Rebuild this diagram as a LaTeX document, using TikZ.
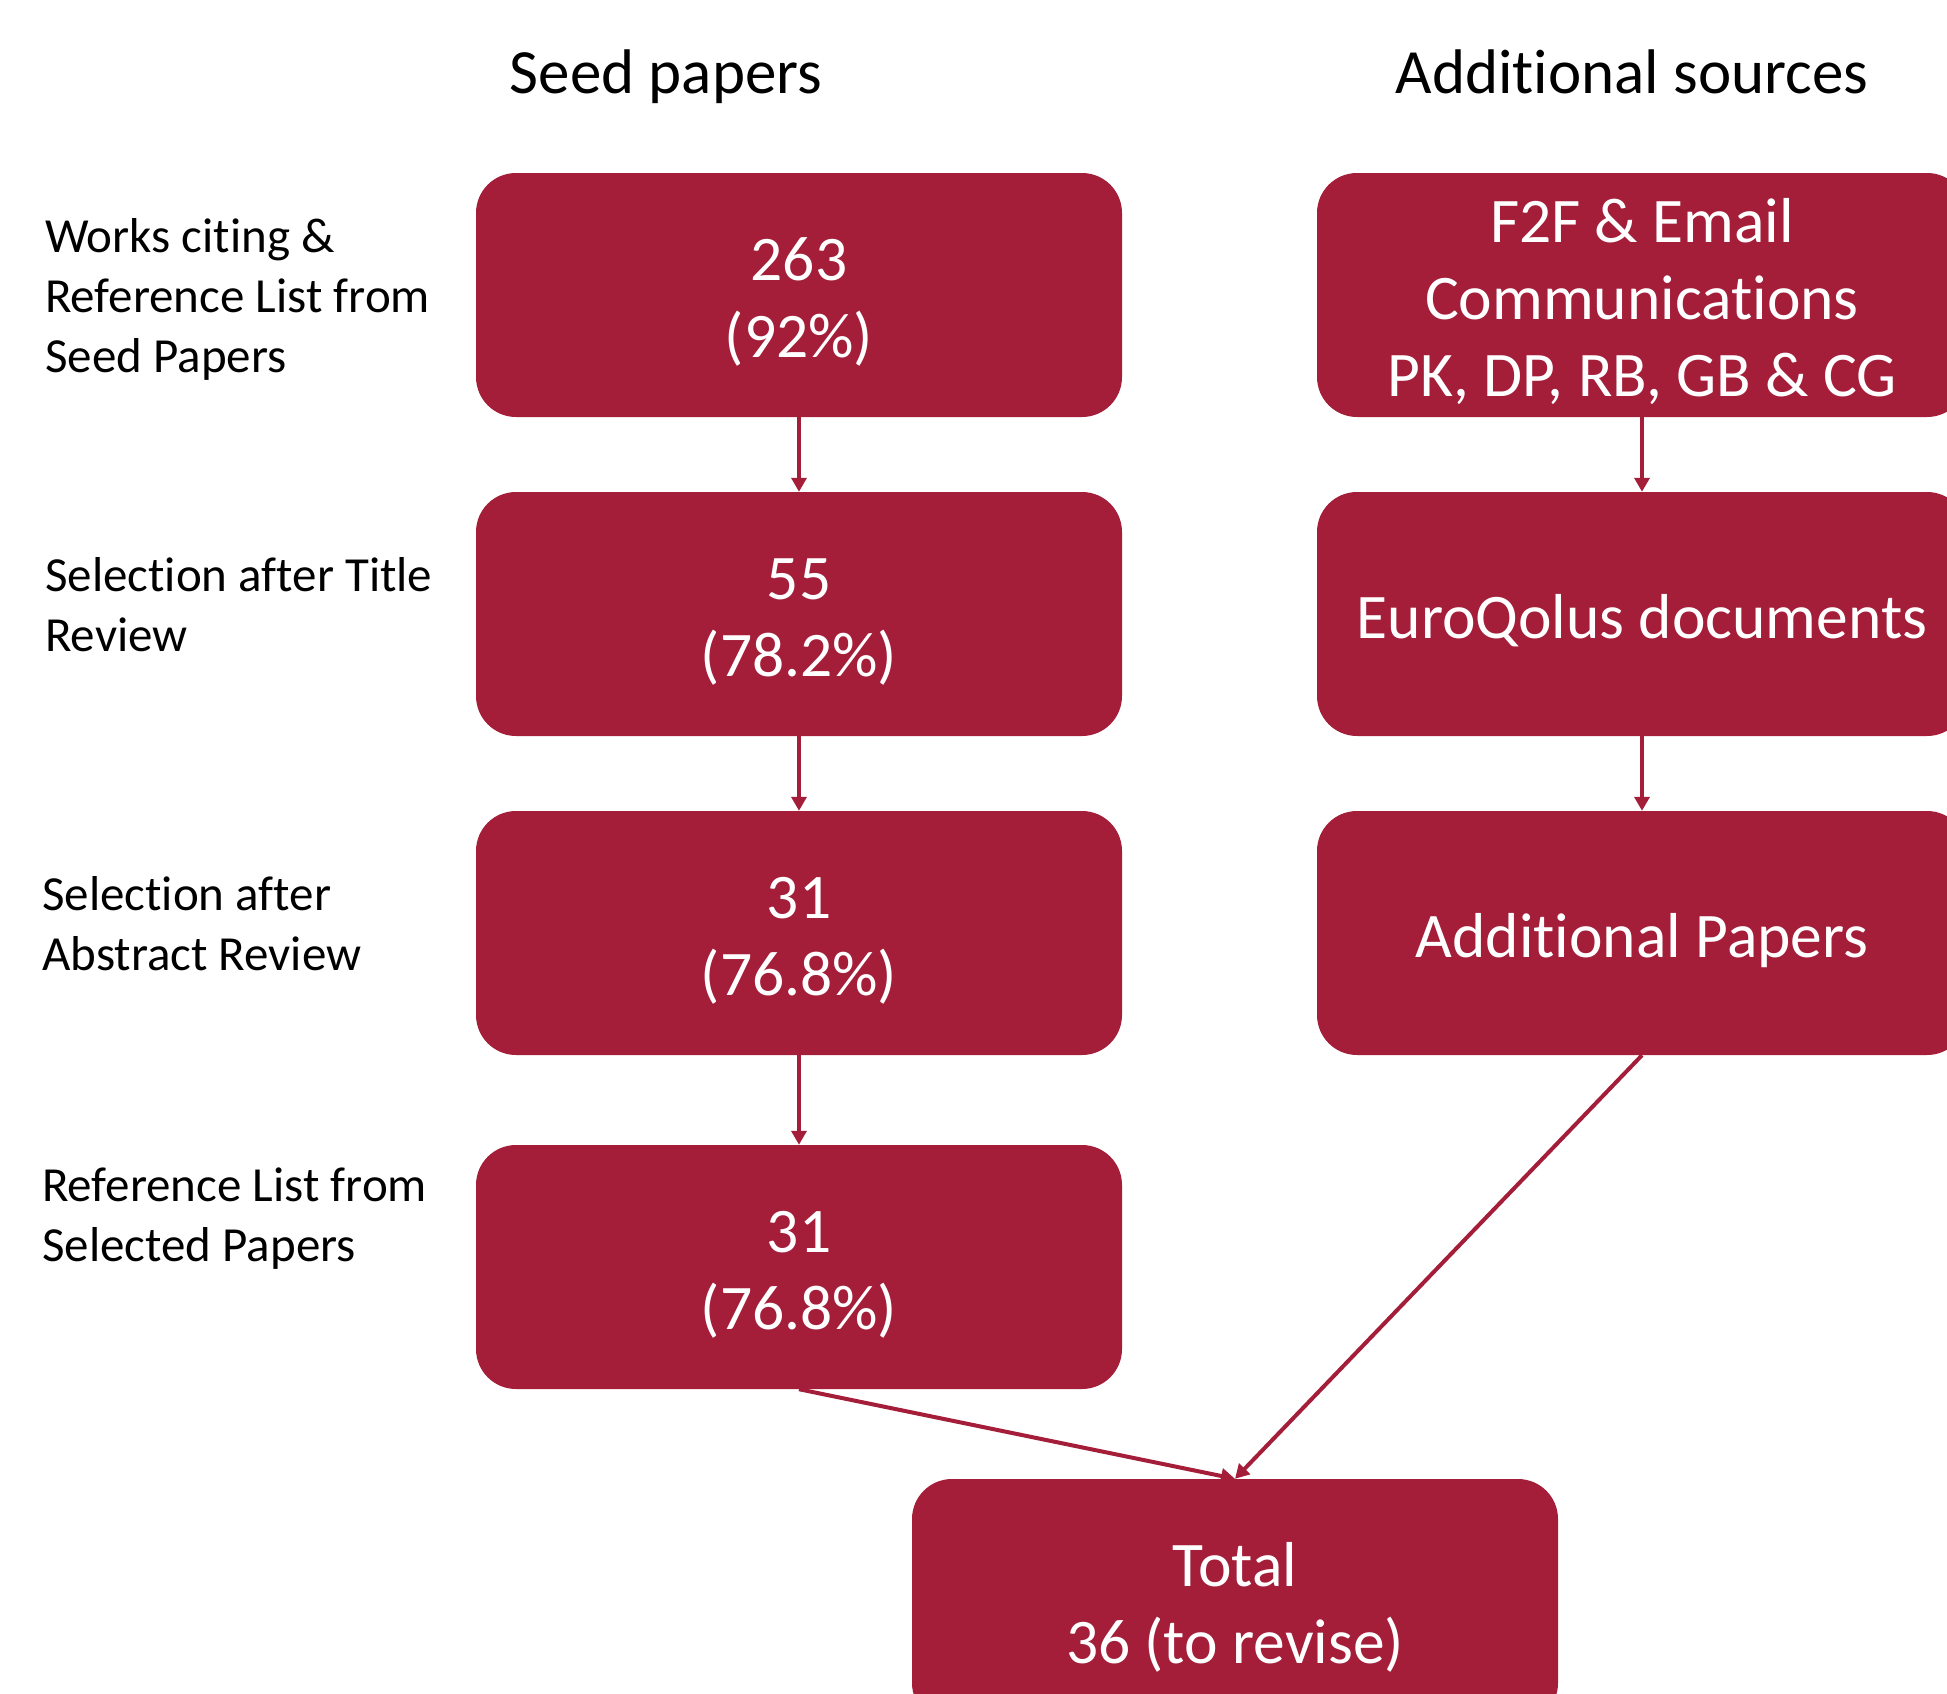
\documentclass[tikz,border=0pt]{standalone}
\usepackage{fontspec}
\setmainfont[Ligatures={NoCommon}]{Carlito}
\usetikzlibrary{arrows.meta}
\definecolor{wine}{RGB}{164,30,57}
\newcommand{\btxt}[1]{\raisebox{-9pt}[\height][\depth]{\begin{tabular}{@{}c@{}}#1\end{tabular}}}
\tikzset{
  box/.style={fill=wine, text=white, rounded corners=40pt, minimum width=646pt, minimum height=244pt,
    inner sep=0pt, font=\fontsize{63.5}{77}\selectfont},
  lbl/.style={anchor=west, inner sep=0pt, align=left, font=\fontsize{49}{60}\selectfont},
  hdr/.style={anchor=base, inner sep=0pt, font=\fontsize{63}{76}\selectfont},
  arr/.style={draw=wine, line width=4pt, -{Triangle[width=15pt,length=14pt]}}
}
\begin{document}
\begin{tikzpicture}[x=1pt,y=-1pt]
\useasboundingbox (0,0) rectangle (1947,1694);
\clip (0,0) rectangle (1947,1694);
\node[hdr] (h1) at (666,93) {Seed papers};
\node[hdr] (h2) at (1632,93) {Additional sources};
\node[lbl] (l1) at (45,299) {Works citing \&\\Reference List from\\Seed Papers};
\node[lbl] (l2) at (45,605) {Selection after Title\\Review};
\node[lbl] (l3) at (42,924) {Selection after\\Abstract Review};
\node[lbl] (l4) at (42,1219) {Reference List from\\Selected Papers};
\node[box] (b1) at (799,295) {\btxt{263\\(92\%)}};
\node[box] (b2) at (799,614) {\btxt{55\\(78.2\%)}};
\node[box] (b3) at (799,933) {\btxt{31\\(76.8\%)}};
\node[box] (b4) at (799,1267) {\btxt{31\\(76.8\%)}};
\node[box, minimum width=650pt] (r1) at (1642,295) {\btxt{F2F \& Email\\Communications\\PK, DP, RB, GB \& CG}};
\node[box, minimum width=650pt] (r2) at (1642,614) {\btxt{EuroQolus documents}};
\node[box, minimum width=650pt] (r3) at (1642,933) {\btxt{Additional Papers}};
\node[box] (tot) at (1235,1601) {\btxt{Total\\36 (to revise)}};
\draw[arr] (b1.south) -- (b2.north);
\draw[arr] (b2.south) -- (b3.north);
\draw[arr] (b3.south) -- (b4.north);
\draw[arr] (r1.south) -- (r2.north);
\draw[arr] (r2.south) -- (r3.north);
\draw[arr] (b4.south) -- (tot.north);
\draw[arr] (r3.south) -- (tot.north);
\end{tikzpicture}
\end{document}
